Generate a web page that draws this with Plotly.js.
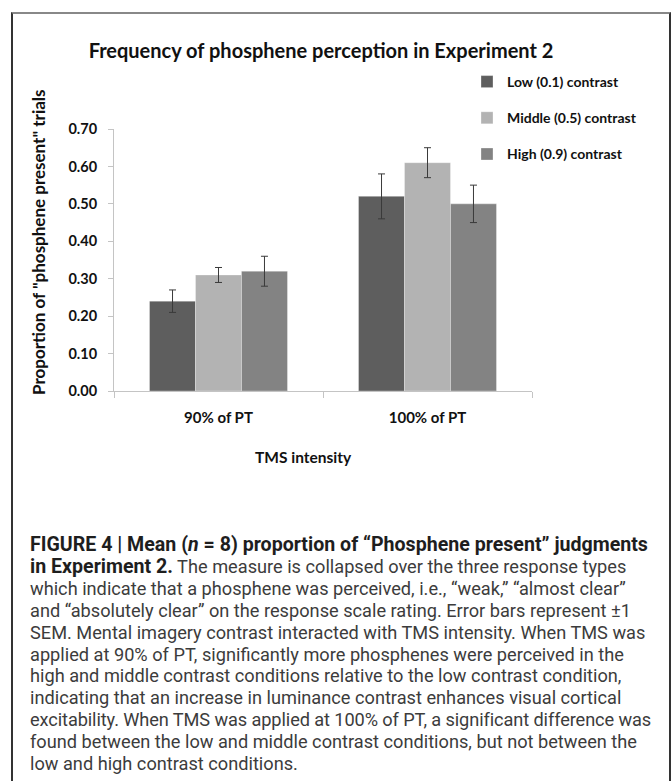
<!DOCTYPE html>
<html>
<head>
<meta charset="utf-8">
<script src="https://cdn.plot.ly/plotly-3.0.1.min.js"></script>
<style>
  html, body { margin: 0; padding: 0; background: #fff; width: 671px; height: 781px; overflow: hidden; }
  #frame { position: absolute; left: 11px; top: 12px; width: 656px; height: 780px;
           border-left: 2px solid #333; border-right: 2px solid #333; border-top: 2px solid #888; }
  #chart { position: absolute; left: 0; top: 0; width: 671px; height: 500px; }
  #caption { position: absolute; left: 30px; top: 534px; font-family: Roboto, "Liberation Sans", sans-serif;
             font-size: 18.2px; line-height: 21.9px; color: #3c3c3c; white-space: nowrap; }
  #caption b { color: #1e1e1e; font-weight: 700; font-size: 19.6px; }
</style>
</head>
<body>
<div id="frame"></div>
<div id="chart"></div>
<div id="caption">
<div><b>FIGURE 4 | Mean (<i>n</i> = 8) proportion of “Phosphene present” judgments</b></div>
<div><b>in Experiment 2.</b> The measure is collapsed over the three response types</div>
<div>which indicate that a phosphene was perceived, i.e., “weak,” “almost clear”</div>
<div>and “absolutely clear” on the response scale rating. Error bars represent ±1</div>
<div>SEM. Mental imagery contrast interacted with TMS intensity. When TMS was</div>
<div>applied at 90% of PT, significantly more phosphenes were perceived in the</div>
<div>high and middle contrast conditions relative to the low contrast condition,</div>
<div>indicating that an increase in luminance contrast enhances visual cortical</div>
<div style="letter-spacing:-0.1px">excitability. When TMS was applied at 100% of PT, a significant difference was</div>
<div>found between the low and middle contrast conditions, but not between the</div>
<div>low and high contrast conditions.</div>
</div>
<script>
const categories = ["90% of PT", "100% of PT"];
const seriesNames = ["Low (0.1) contrast", "Middle (0.5) contrast", "High (0.9) contrast"];
const lowValues = [0.24, 0.52];
const lowErrors = [0.03, 0.06];
const middleValues = [0.31, 0.61];
const middleErrors = [0.02, 0.04];
const highValues = [0.32, 0.50];
const highErrors = [0.04, 0.05];
const yTickValues = [0, 0.1, 0.2, 0.3, 0.4, 0.5, 0.6, 0.7];
const yTickLabels = ["0.00", "0.10", "0.20", "0.30", "0.40", "0.50", "0.60", "0.70"];
const xTitle = "TMS intensity";
const yTitle = "Proportion of \"phosphene present\" trials";

const colors = ["#5e5e5e", "#b3b3b3", "#838383"];
const vals = [lowValues, middleValues, highValues];
const errs = [lowErrors, middleErrors, highErrors];
const F = "Lato, 'Open Sans', sans-serif";
const H = 500;

const traces = seriesNames.map((name, i) => ({
  type: "bar",
  name: name,
  x: categories,
  y: vals[i],
  legendgroup: "g" + i,
  marker: { color: colors[i], line: { color: "rgba(255,255,255,0.5)", width: 0.6 } },
  error_y: { type: "data", array: errs[i], visible: true, color: "#3a3a3a", thickness: 1, width: 3.5 },
  hoverinfo: "none"
}));

const layout = {
  width: 671, height: H,
  paper_bgcolor: "rgba(0,0,0,0)", plot_bgcolor: "rgba(0,0,0,0)",
  margin: { l: 114, r: 139, t: 129, b: H - 391 },
  font: { family: F, color: "#111" },
  title: { text: "<b>Frequency of phosphene perception in Experiment 2</b>",
           font: { family: F, size: 20, color: "#111" },
           xref: "container", x: 321/671, xanchor: "center",
           yref: "container", y: 1 - 51/H, yanchor: "middle" },
  barmode: "group", bargap: 0.34, bargroupgap: 0,
  xaxis: {
    type: "category",
    showline: true, linecolor: "#c4c4c4", linewidth: 1,
    ticks: "outside", tickson: "boundaries", ticklen: 6, tickcolor: "#c4c4c4",
    tickfont: { family: F, size: 15, color: "#111", weight: "bold" },
    ticklabelstandoff: 13,
    showgrid: false, zeroline: false
  },
  yaxis: {
    range: [0, 0.7],
    tickvals: yTickValues, ticktext: yTickLabels,
    showline: true, linecolor: "#c4c4c4", linewidth: 1,
    ticks: "outside", ticklen: 5, tickcolor: "#c4c4c4",
    tickfont: { family: F, size: 14.5, color: "#111", weight: "bold" },
    ticklabelstandoff: 8,
    showgrid: false, zeroline: false
  },
  annotations: [
    { text: "<b>" + xTitle + "</b>", xref: "paper", yref: "paper",
      x: (303 - 114) / 418, y: -(457 - 391) / 262, xanchor: "center", yanchor: "middle",
      showarrow: false, font: { family: F, size: 15.5, color: "#111" } },
    { text: "<b>" + yTitle + "</b>", xref: "paper", yref: "paper",
      x: (38 - 114) / 418, y: (391 - 242) / 262, xanchor: "center", yanchor: "middle",
      textangle: -90, showarrow: false, font: { family: F, size: 17, color: "#111" } }
  ],
  showlegend: true,
  legend: {
    x: 1.0 + (467 - 532) / 418, xanchor: "left",
    y: 1 + (129 - 66) / 262, yanchor: "top",
    font: { family: F, size: 14, color: "#111", weight: "bold" },
    tracegroupgap: 15, bgcolor: "rgba(0,0,0,0)", traceorder: "grouped"
  }
};

Plotly.newPlot("chart", traces, layout, { staticPlot: true, displayModeBar: false });
</script>
</body>
</html>
